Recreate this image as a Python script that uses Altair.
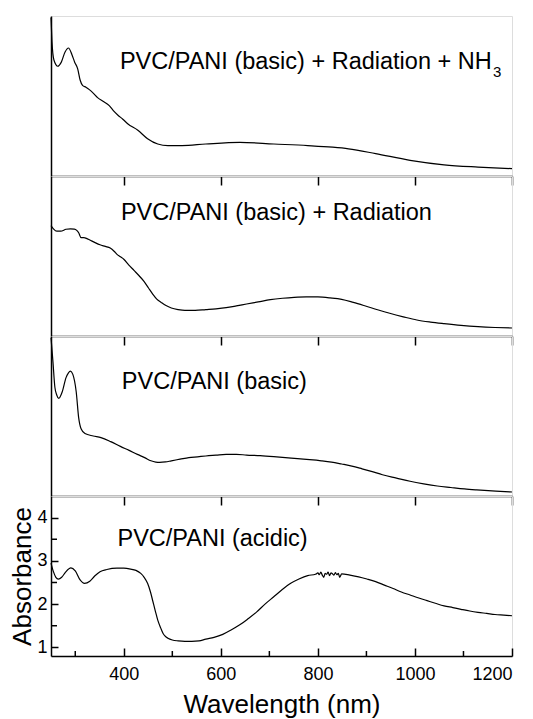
import altair as alt
import pandas as pd

# ---------------- data ----------------
# Panel 1: PVC/PANI (basic) + Radiation + NH3  (arbitrary units, 0..1 of panel)
wl_nh3 = [250, 252, 256, 264, 271, 279, 286, 293, 299, 305, 310, 315, 322, 329, 338, 346,
          358, 370, 378, 388, 398, 408, 429, 449, 470, 491, 520, 569, 639, 709, 779, 830,
          863, 919, 990, 1060, 1130, 1200]
ab_nh3 = [0.99, 0.84, 0.725, 0.686, 0.71, 0.775, 0.80, 0.76, 0.71, 0.67, 0.60, 0.567, 0.555,
          0.54, 0.515, 0.49, 0.465, 0.44, 0.41, 0.38, 0.355, 0.327, 0.286, 0.233, 0.20, 0.19,
          0.19, 0.20, 0.21, 0.20, 0.19, 0.18, 0.17, 0.14, 0.098, 0.07, 0.056, 0.046]

# Panel 2: PVC/PANI (basic) + Radiation
wl_rad = [250, 255, 262, 270, 281, 290, 298, 303, 307, 312, 318, 323, 330, 340, 351, 362,
          372, 380, 386, 393, 400, 410, 421, 432, 442, 451, 460, 468, 477, 487, 498, 512,
          526, 547, 569, 590, 611, 632, 653, 677, 702, 727, 751, 776, 800, 825, 849, 873,
          898, 923, 948, 976, 1004, 1032, 1060, 1095, 1130, 1165, 1200]
ab_rad = [0.69, 0.67, 0.655, 0.655, 0.667, 0.67, 0.668, 0.66, 0.645, 0.615, 0.615, 0.61,
          0.60, 0.585, 0.57, 0.56, 0.55, 0.53, 0.51, 0.495, 0.48, 0.445, 0.41, 0.375, 0.34,
          0.30, 0.26, 0.23, 0.21, 0.19, 0.175, 0.165, 0.16, 0.16, 0.165, 0.17, 0.177, 0.188,
          0.20, 0.213, 0.227, 0.236, 0.242, 0.245, 0.244, 0.238, 0.229, 0.21, 0.1875, 0.164,
          0.142, 0.12, 0.10, 0.087, 0.077, 0.066, 0.058, 0.053, 0.05]

# Panel 3: PVC/PANI (basic)
wl_basic = [250, 254, 258, 262, 266, 273, 281, 286, 290, 295, 302, 307, 312, 320, 337, 353,
            373, 393, 411, 428, 443, 456, 466, 474, 486, 498, 516, 534, 552, 569, 590, 611,
            632, 653, 681, 709, 733, 758, 783, 807, 828, 849, 870, 891, 912, 933, 962, 990,
            1018, 1046, 1074, 1102, 1127, 1151, 1176, 1200]
ab_basic = [0.99, 0.84, 0.68, 0.63, 0.61, 0.65, 0.74, 0.77, 0.78, 0.76, 0.65, 0.49, 0.42,
            0.39, 0.375, 0.365, 0.34, 0.31, 0.285, 0.26, 0.24, 0.22, 0.212, 0.21, 0.213, 0.22,
            0.23, 0.24, 0.245, 0.25, 0.255, 0.26, 0.26, 0.256, 0.252, 0.246, 0.24, 0.233,
            0.227, 0.22, 0.212, 0.20, 0.187, 0.17, 0.152, 0.133, 0.112, 0.092, 0.076, 0.0625,
            0.053, 0.044, 0.038, 0.033, 0.029, 0.025]

# Panel 4: PVC/PANI (acidic)  (absorbance)
wl_acid = [250, 255, 260, 265, 272, 280, 291, 300, 310, 319, 330, 340, 351, 365, 386, 400,
           414, 425, 435, 442, 449, 455, 460, 465, 470, 476, 481, 486, 491, 500, 512, 526,
           540, 555, 569, 586, 604, 621, 639, 656, 674, 691, 709, 726, 744, 761, 779, 795,
           800, 803, 806, 809, 812, 815, 818, 821, 824, 827, 830, 833, 836, 839, 842, 845,
           849, 866, 884, 901, 919, 937, 955, 972, 990, 1008, 1025, 1042, 1060, 1078, 1095,
           1113, 1130, 1148, 1165, 1183, 1200]
ab_acid = [2.95, 2.75, 2.62, 2.58, 2.62, 2.74, 2.84, 2.77, 2.56, 2.48, 2.53, 2.65, 2.75,
           2.80, 2.83, 2.83, 2.81, 2.78, 2.71, 2.62, 2.48, 2.28, 2.06, 1.84, 1.63, 1.45, 1.32,
           1.25, 1.21, 1.17, 1.15, 1.14, 1.14, 1.15, 1.19, 1.23, 1.30, 1.40, 1.52, 1.66, 1.82,
           2.00, 2.17, 2.33, 2.48, 2.58, 2.66, 2.69, 2.72, 2.68, 2.74, 2.67, 2.62, 2.71, 2.69,
           2.74, 2.66, 2.72, 2.70, 2.67, 2.73, 2.68, 2.71, 2.62, 2.70, 2.67, 2.63, 2.58, 2.52,
           2.44, 2.36, 2.28, 2.21, 2.14, 2.08, 2.02, 1.96, 1.92, 1.88, 1.84, 1.81, 1.785, 1.76,
           1.745, 1.73]

panel_labels = ["PVC/PANI (basic) + Radiation + NH", "PVC/PANI (basic) + Radiation",
                "PVC/PANI (basic)", "PVC/PANI (acidic)"]
label_wl = [392, 394, 396, 387]
label_val = [0.669, 0.723, 0.67, 3.35]
sub_text = ["3"]
sub_wl = [1161]
sub_val = [0.619]

x_major = [400, 600, 800, 1000, 1200]
x_minor = [300, 500, 700, 900, 1100]
y_major = [1, 2, 3, 4]
y_minor = [1.5, 2.5, 3.5]

# ---------------- chart ----------------
W, H = 461, 160
FONT = "Liberation Sans"
xscale = alt.Scale(domain=[250, 1200], nice=False, zero=False)


def upper(wl, ab, idx, extra=None):
    df = pd.DataFrame({"wl": wl, "ab": ab})
    x = alt.X("wl:Q", scale=xscale,
              axis=alt.Axis(values=x_major, labels=False, title=None, grid=False,
                            tickSize=9, tickWidth=1.5, tickColor="black",
                            domainColor="black", domainWidth=1.5))
    y = alt.Y("ab:Q", scale=alt.Scale(domain=[0, 1], nice=False, zero=False),
              axis=alt.Axis(ticks=False, labels=False, title=None, grid=False,
                            domainColor="black", domainWidth=1.5))
    line = alt.Chart(df).mark_line(color="black", strokeWidth=1.2,
                                   interpolate="monotone").encode(x=x, y=y)
    tdf = pd.DataFrame({"wl": [label_wl[idx]], "ab": [label_val[idx]],
                        "t": [panel_labels[idx]]})
    txt = alt.Chart(tdf).mark_text(align="left", baseline="alphabetic", fontSize=23.5,
                                   font=FONT, color="black").encode(x=x, y=y, text="t:N")
    layers = [line, txt]
    if extra is not None:
        sdf = pd.DataFrame({"wl": sub_wl, "ab": sub_val, "t": sub_text})
        layers.append(alt.Chart(sdf).mark_text(align="left", baseline="alphabetic",
                                               fontSize=15, font=FONT, color="black")
                      .encode(x=x, y=y, text="t:N"))
    return alt.layer(*layers).properties(width=W, height=H)


p1 = upper(wl_nh3, ab_nh3, 0, extra=True)
p2 = upper(wl_rad, ab_rad, 1)
p3 = upper(wl_basic, ab_basic, 2)

df4 = pd.DataFrame({"wl": wl_acid, "ab": ab_acid})
# major ticks drawn by the axis itself, pointing inward (negative size via expression)
x4 = alt.X("wl:Q", scale=xscale,
           axis=alt.Axis(values=x_major, format="d", grid=False,
                         tickSize={"expr": "-8"}, tickWidth=1.5, tickColor="black",
                         domainColor="black", domainWidth=1.5,
                         labelFontSize=18, labelFont=FONT, labelColor="black",
                         labelPadding=17, title="Wavelength (nm)", titleFontSize=26,
                         titleFont=FONT, titleFontWeight="normal", titleColor="black",
                         titlePadding=8))
y4 = alt.Y("ab:Q", scale=alt.Scale(domain=[0.8, 4.5], nice=False, zero=False),
           axis=alt.Axis(values=y_major, format="d", grid=False,
                         tickSize={"expr": "-7"}, tickWidth=1.5, tickColor="black",
                         domainColor="black", domainWidth=1.5,
                         labelFontSize=18, labelFont=FONT, labelColor="black",
                         labelPadding=11, title="Absorbance", titleFontSize=26,
                         titleFont=FONT, titleFontWeight="normal", titleColor="black",
                         titlePadding=1))
line4 = alt.Chart(df4).mark_line(color="black", strokeWidth=1.2,
                                 interpolate="monotone").encode(x=x4, y=y4)
tdf4 = pd.DataFrame({"wl": [label_wl[3]], "ab": [label_val[3]], "t": [panel_labels[3]]})
txt4 = alt.Chart(tdf4).mark_text(align="left", baseline="alphabetic", fontSize=23.5,
                                 font=FONT, color="black").encode(x=x4, y=y4, text="t:N")

# minor inward ticks of the bottom panel (positions through the chart's own scales)
xt_minor = alt.Chart(pd.DataFrame({"wl": x_minor})).mark_tick(
    color="black", thickness=1.5, size=5, orient="vertical", opacity=1
).encode(x=alt.X("wl:Q", scale=xscale), y=alt.value(H - 2.5))
yt_minor = alt.Chart(pd.DataFrame({"ab": y_minor})).mark_tick(
    color="black", thickness=1.5, size=6, orient="horizontal", opacity=1
).encode(y=alt.Y("ab:Q"), x=alt.value(3))

p4 = alt.layer(line4, txt4, xt_minor, yt_minor).properties(width=W, height=H)

chart = alt.vconcat(p1, p2, p3, p4, spacing=0, bounds="flush").properties(
    padding={"left": 1, "top": 6, "right": 0, "bottom": 0}
).configure_view(stroke=None).configure(font=FONT)

chart.save("out.html", embed_options={"renderer": "svg", "actions": False})
